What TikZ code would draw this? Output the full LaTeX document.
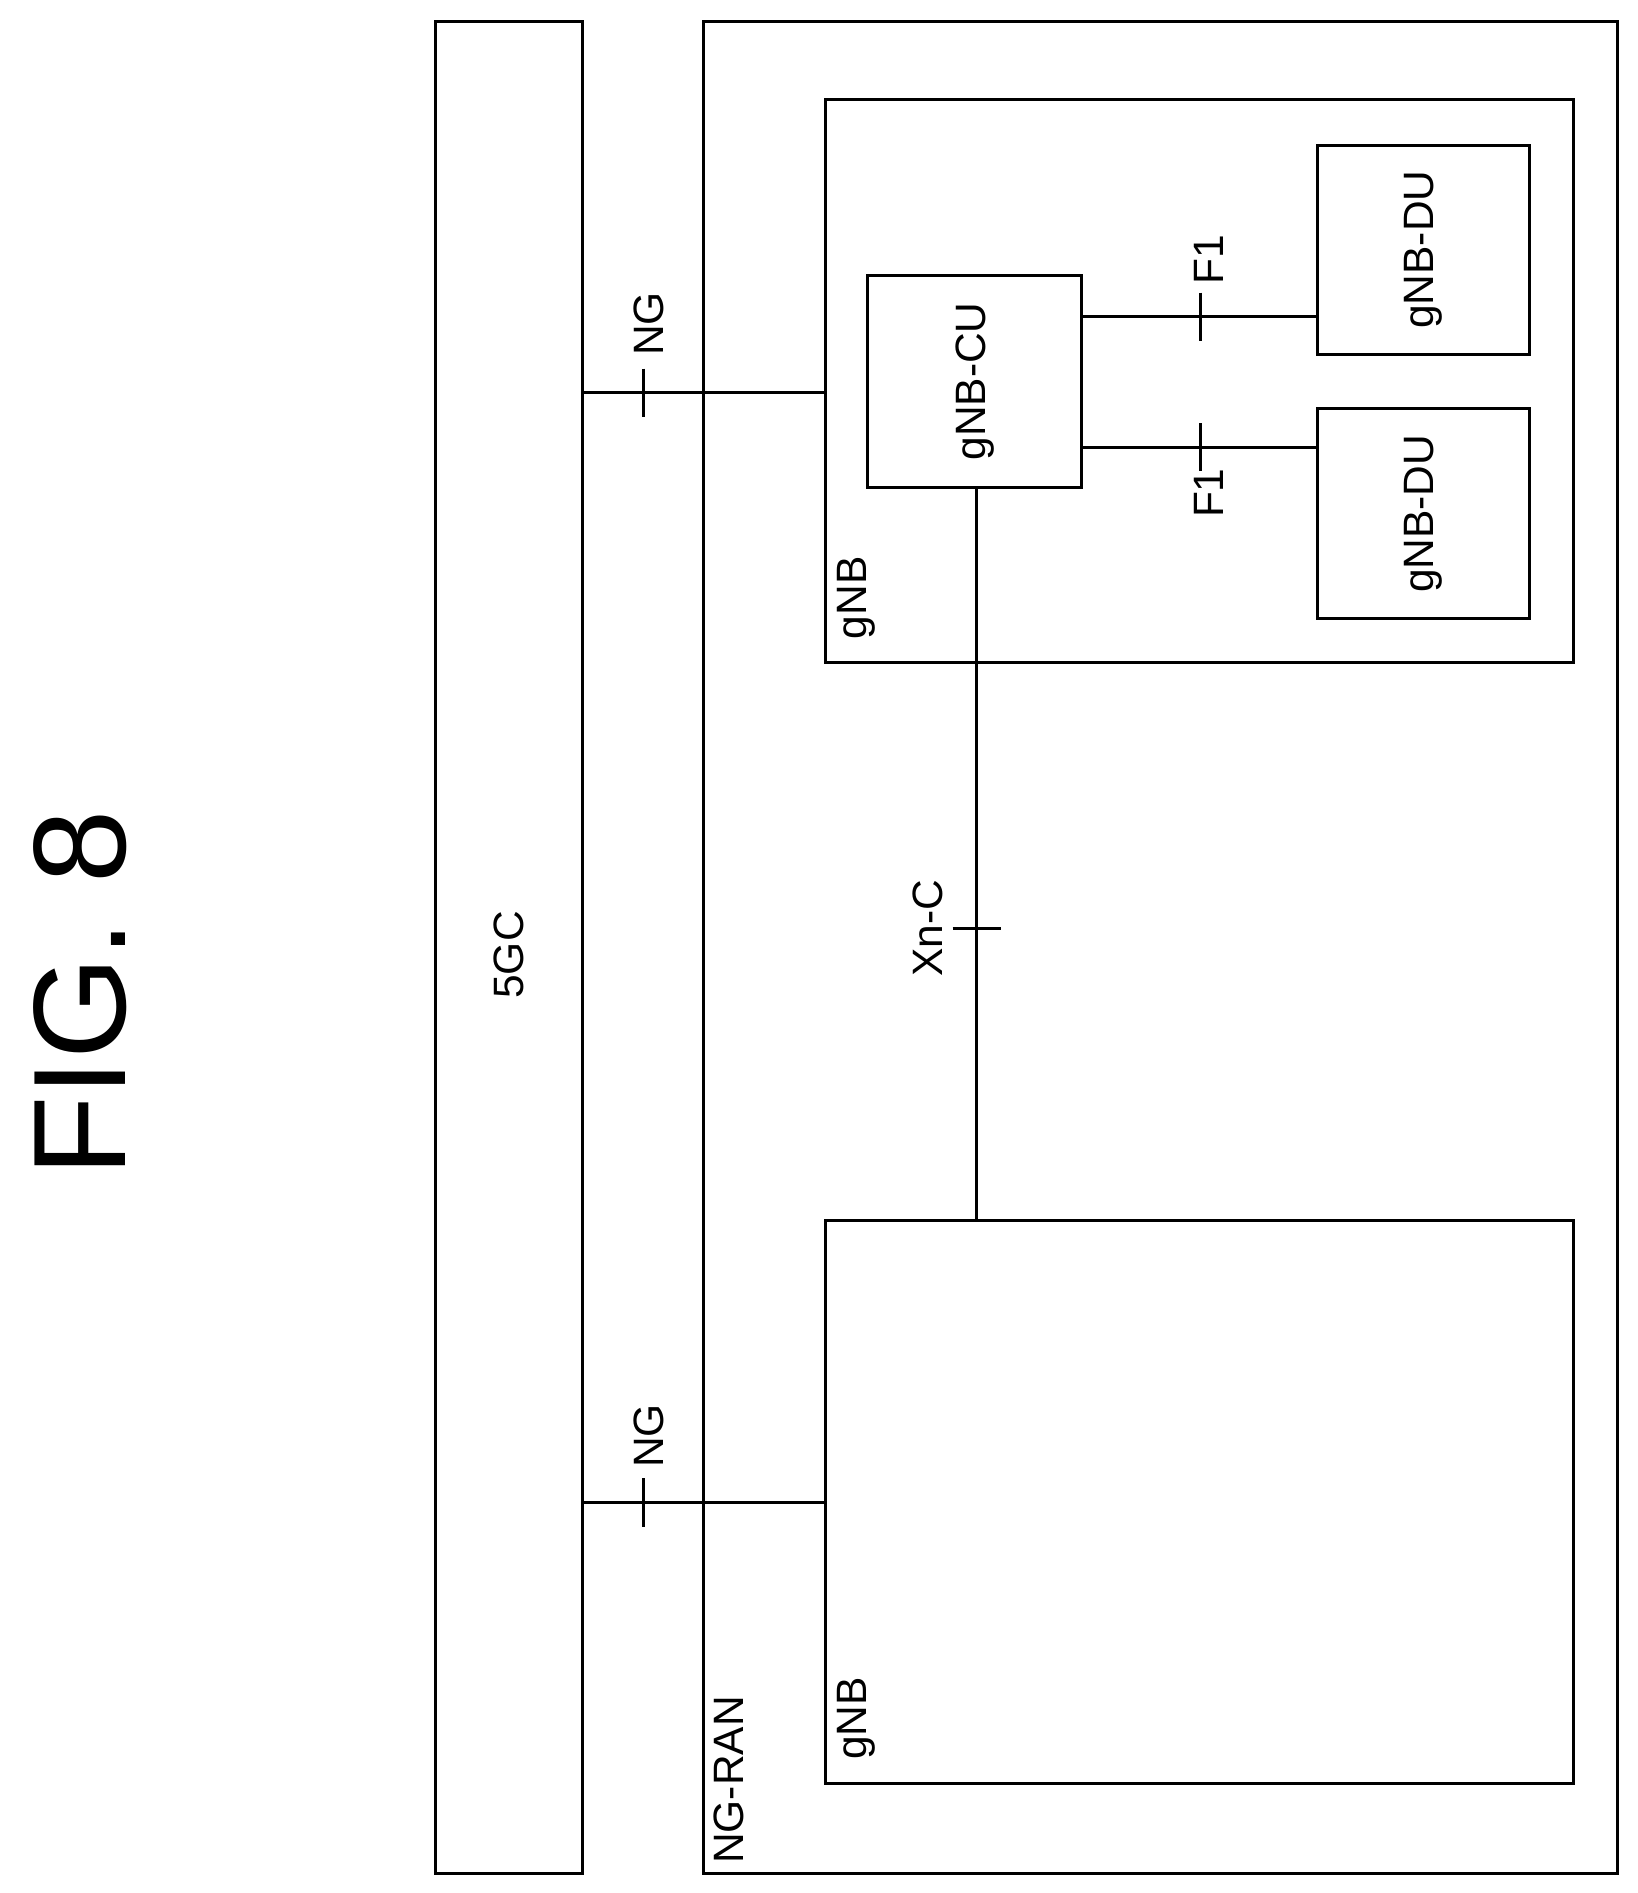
\documentclass[tikz,border=0pt]{standalone}
\usepackage{fontspec}
\setmainfont{Liberation Sans}
\usetikzlibrary{calc}
\tikzset{
  box/.style={draw, line width=1.4pt, rectangle, inner sep=0pt},
  lbl/.style={rotate=90, font=\fontsize{20}{24}\selectfont},
  link/.style={line width=1.4pt},
}
\begin{document}
\begin{tikzpicture}[x=0.02cm, y=-0.02cm]
\useasboundingbox (0,0) rectangle (1355,1566);
% title
\node[rotate=90, font=\fontsize{62}{72}\selectfont] (title) at (66,822) {FIG. 8};

% core and access network
\draw[line width=1.4pt] (360,18) rectangle (482,1550);
\coordinate (core) at (482,0);
\node[lbl] (corelbl) at (421,790) {5GC};
\draw[line width=1.4pt] (582,18) rectangle (1338,1550);
\node[lbl, anchor=south west] (ranlbl) at (622,1548) {NG-RAN};

% gNBs
\draw[line width=1.4pt] (683,82) rectangle (1302,548);
\node[lbl, anchor=south west] (gnbAlbl) at (730,535) {gNB};
\draw[line width=1.4pt] (683,1010) rectangle (1302,1475);
\node[lbl, anchor=south west] (gnbBlbl) at (730,1462) {gNB};
\coordinate (gnbA) at (683,0);
\coordinate (gnbBtop) at (808,1010);

% CU and DUs
\node[box, minimum width=3.54cm, minimum height=3.5cm] (cu) at (806.5,315.5) {};
\node[lbl] at (cu) {gNB-CU};
\node[box, minimum width=3.5cm, minimum height=3.46cm] (du1) at (1177.5,206.5) {};
\node[lbl] at (du1) {gNB-DU};
\node[box, minimum width=3.5cm, minimum height=3.48cm] (du2) at (1177.5,425) {};
\node[lbl] at (du2) {gNB-DU};

% NG links
\draw[link] (core |- 0,325) coordinate (ngA1) -- (gnbA |- 0,325) coordinate (ngA2);
\draw[link] (532,305) -- (532,345);
\node[lbl] at (537,268) {NG};
\draw[link] (core |- 0,1243) coordinate (ngB1) -- (gnbA |- 0,1243) coordinate (ngB2);
\draw[link] (532,1223) -- (532,1263);
\node[lbl] at (537,1188) {NG};

% Xn-C
\draw[link] (cu.south -| gnbBtop) -- (gnbBtop);
\draw[link] (788,768) -- (828,768);
\node[lbl] at (768,768) {Xn-C};

% F1 links
\draw[link] (cu.east |- 0,262) -- (du1.west |- 0,262);
\draw[link] (993,242) -- (993,282);
\node[lbl] at (1000,215) {F1};
\draw[link] (cu.east |- 0,370) -- (du2.west |- 0,370);
\draw[link] (993,350) -- (993,390);
\node[lbl] at (1000,408) {F1};
\end{tikzpicture}
\end{document}
